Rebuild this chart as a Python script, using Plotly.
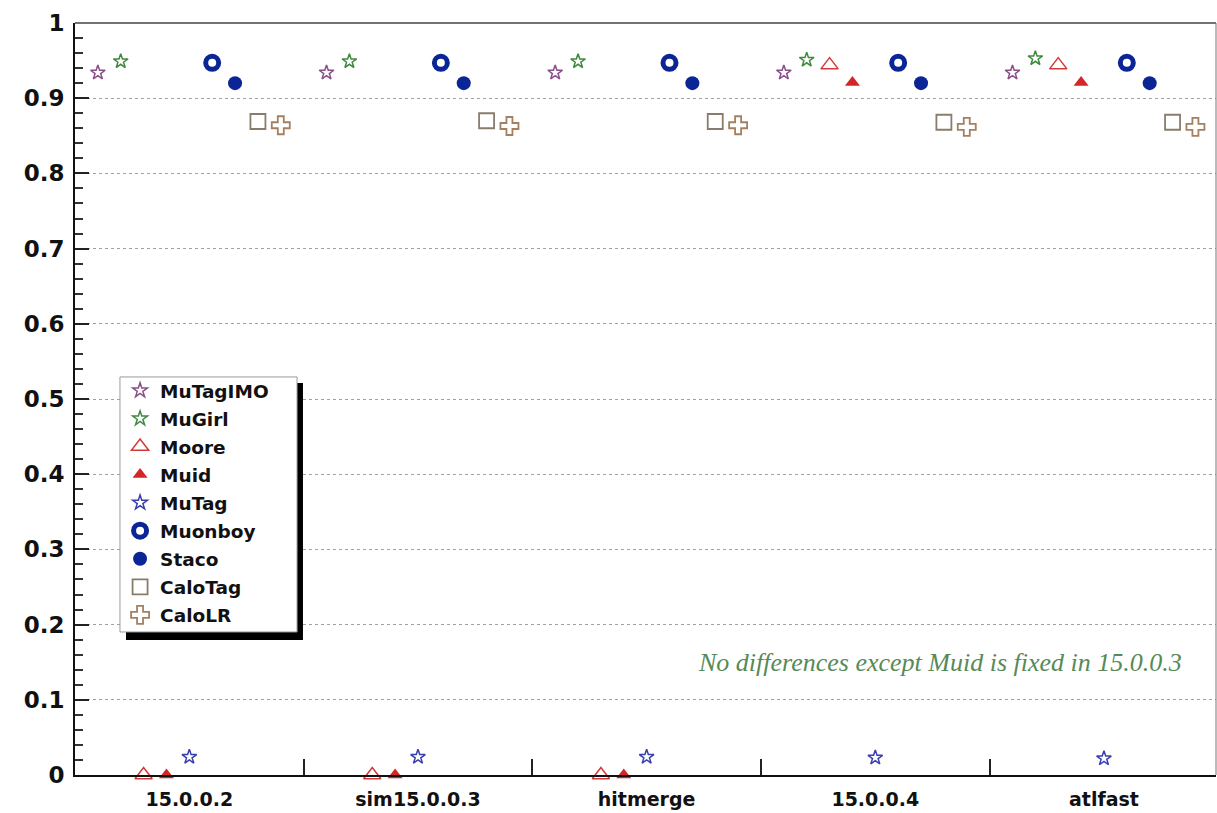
import plotly.graph_objects as go

# Reconstruction efficiency per algorithm and release
categories = ["15.0.0.2", "sim15.0.0.3", "hitmerge", "15.0.0.4", "atlfast"]

mutagimo = [0.934, 0.934, 0.934, 0.934, 0.934]
mugirl = [0.949, 0.949, 0.949, 0.951, 0.953]
moore = [0.0, 0.0, 0.0, 0.944, 0.944]
muid = [0.0, 0.0, 0.0, 0.921, 0.921]
mutag = [0.024, 0.024, 0.024, 0.023, 0.022]
muonboy = [0.947, 0.947, 0.947, 0.947, 0.947]
staco = [0.920, 0.920, 0.920, 0.920, 0.920]
calotag = [0.869, 0.870, 0.869, 0.868, 0.868]
calolr = [0.864, 0.863, 0.864, 0.862, 0.862]

series = [
    ("MuTagIMO", mutagimo, "star-open", "#8a4f8a", 11, 1.5),
    ("MuGirl", mugirl, "star-open", "#3f8a3f", 11, 1.5),
    ("Moore", moore, "triangle-up-open", "#d23a3a", 15, 1.5),
    ("Muid", muid, "triangle-up", "#d42626", 13, 0),
    ("MuTag", mutag, "star-open", "#3a3fb0", 11, 1.5),
    ("Muonboy", muonboy, "circle-open", "#0c2596", 13, 5),
    ("Staco", staco, "circle", "#0c2596", 14, 0),
    ("CaloTag", calotag, "square-open", "#8a7c6c", 15, 1.8),
    ("CaloLR", calolr, "cross-open", "#a58060", 15, 1.8),
]

fig = go.Figure()
for k, (name, vals, sym, col, size, lw) in enumerate(series):
    # each algorithm sits at its own slot inside the release bin
    xs = [i + 0.1 * (k + 1) for i in range(len(categories))]
    marker = dict(symbol=sym, size=size, color=col)
    if lw:
        marker["line"] = dict(color=col, width=lw)
    fig.add_trace(go.Scatter(
        x=xs, y=vals, mode="markers", name=name, marker=marker,
        legendgroup=name, cliponaxis=False,
    ))

# legend frame with a drop shadow, plus the thin top/right frame lines
shapes = [
    dict(type="rect", xref="paper", yref="paper",
         x0=0.0447, x1=0.1998, y0=0.1795, y1=0.5213,
         fillcolor="#000", line=dict(width=0), layer="above"),
    dict(type="rect", xref="paper", yref="paper",
         x0=0.0394, x1=0.1946, y0=0.1902, y1=0.5293,
         fillcolor="white", line=dict(color="#9a9a9a", width=1), layer="above"),
    dict(type="line", xref="paper", yref="paper", x0=0, x1=1, y0=1, y1=1,
         line=dict(color="#444", width=1.5)),
    dict(type="line", xref="paper", yref="paper", x0=1, x1=1, y0=0, y1=1,
         line=dict(color="#777", width=1)),
]

fig.update_layout(
    width=1217, height=813,
    margin=dict(l=75, r=1, t=23, b=38),
    paper_bgcolor="white", plot_bgcolor="white",
    showlegend=True,
    legend=dict(
        x=0.0395, y=0.536, xanchor="left", yanchor="top",
        bgcolor="rgba(0,0,0,0)", borderwidth=0,
        font=dict(family="DejaVu Sans", size=18.5, color="#111", weight="bold"),
        traceorder="grouped", tracegroupgap=1, itemwidth=30,
    ),
    xaxis=dict(
        range=[0, 4.99], showgrid=False, zeroline=False,
        tickmode="array", tickvals=[i + 0.5 for i in range(len(categories))],
        ticktext=categories, ticks="",
        tickfont=dict(family="DejaVu Sans", size=19, color="#111", weight="bold"),
        ticklabelstandoff=6,
        showline=True, linecolor="#111", linewidth=2,
        minor=dict(tickmode="array", tickvals=[1, 2, 3, 4], ticks="inside",
                   ticklen=16, tickcolor="#222", tickwidth=2),
    ),
    yaxis=dict(
        range=[0, 1], dtick=0.1, tick0=0, zeroline=False,
        showgrid=True, gridcolor="#a0a0a0", griddash="dot", gridwidth=1,
        ticks="inside", ticklen=14, tickwidth=2, tickcolor="#222",
        tickfont=dict(family="DejaVu Sans", size=23, color="#111", weight="bold"),
        ticklabelstandoff=4,
        showline=True, linecolor="#111", linewidth=2,
        minor=dict(dtick=0.02, ticks="inside", ticklen=8, tickcolor="#333",
                   tickwidth=1.5, showgrid=False),
    ),
    annotations=[dict(
        x=3.785, y=0.149, xref="x", yref="y",
        text="<i>No differences except Muid is fixed in 15.0.0.3</i>",
        showarrow=False,
        font=dict(family="Liberation Serif", size=26, color="#578a57"),
    )],
    shapes=shapes,
)

fig.write_html("out.html")
